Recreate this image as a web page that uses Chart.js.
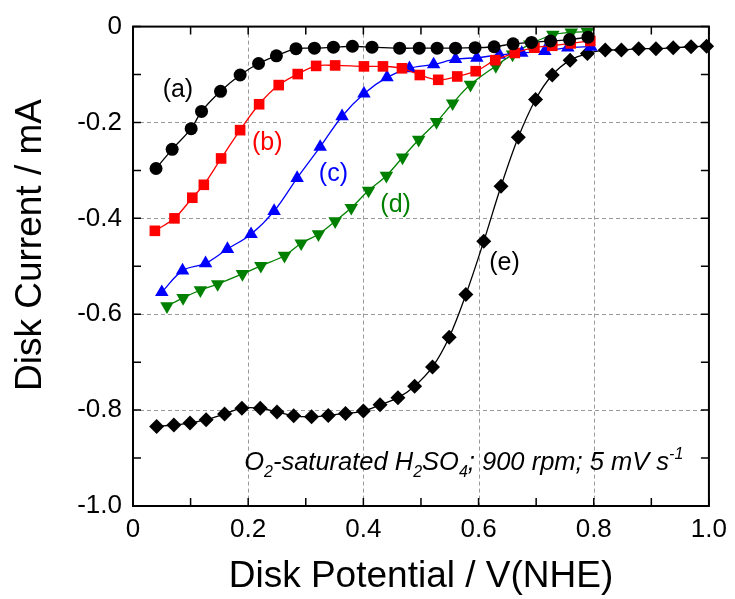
<!DOCTYPE html>
<html><head><meta charset="utf-8">
<script src="https://cdn.jsdelivr.net/npm/chart.js@4/dist/chart.umd.min.js"></script>
<style>html,body{margin:0;padding:0;background:#fff}#wrap{width:735px;height:599px}</style>
</head><body><div id="wrap"><canvas id="c" width="735" height="599"></canvas></div>
<script>
const xA = [0.040,0.068,0.101,0.119,0.152,0.186,0.218,0.249,0.283,0.315,0.348,0.381,0.415,0.463,0.497,0.528,0.560,0.594,0.627,0.660,0.692,0.725,0.758,0.790];
const yA = [-0.296,-0.256,-0.213,-0.177,-0.135,-0.101,-0.077,-0.061,-0.046,-0.045,-0.043,-0.041,-0.043,-0.045,-0.045,-0.045,-0.045,-0.044,-0.042,-0.036,-0.033,-0.030,-0.027,-0.022];
const xB = [0.038,0.072,0.103,0.123,0.153,0.186,0.219,0.253,0.286,0.318,0.351,0.401,0.434,0.467,0.498,0.530,0.563,0.595,0.629,0.663,0.697,0.728,0.760,0.794];
const yB = [-0.426,-0.400,-0.357,-0.330,-0.275,-0.216,-0.162,-0.122,-0.099,-0.082,-0.081,-0.083,-0.083,-0.087,-0.101,-0.111,-0.104,-0.093,-0.070,-0.055,-0.044,-0.040,-0.035,-0.030];
const xC = [0.050,0.086,0.126,0.164,0.205,0.245,0.285,0.325,0.363,0.401,0.441,0.480,0.522,0.560,0.597,0.636,0.675,0.715,0.755,0.795];
const yC = [-0.554,-0.509,-0.494,-0.464,-0.433,-0.385,-0.316,-0.251,-0.187,-0.140,-0.106,-0.087,-0.079,-0.068,-0.065,-0.059,-0.055,-0.051,-0.044,-0.042];
const xD = [0.059,0.087,0.117,0.147,0.190,0.222,0.263,0.292,0.322,0.351,0.379,0.409,0.440,0.468,0.496,0.527,0.555,0.586,0.630,0.659,0.689,0.729,0.761,0.789];
const yD = [-0.583,-0.566,-0.550,-0.537,-0.516,-0.499,-0.478,-0.452,-0.433,-0.406,-0.378,-0.342,-0.311,-0.273,-0.236,-0.199,-0.160,-0.121,-0.082,-0.058,-0.037,-0.017,-0.012,-0.011];
const xE = [0.041,0.071,0.099,0.127,0.159,0.189,0.221,0.250,0.279,0.310,0.339,0.369,0.400,0.429,0.460,0.489,0.520,0.549,0.578,0.609,0.639,0.669,0.699,0.728,0.759,0.789,0.820,0.848,0.878,0.908,0.938,0.969,0.996];
const yE = [-0.834,-0.831,-0.827,-0.820,-0.808,-0.796,-0.796,-0.804,-0.812,-0.814,-0.811,-0.807,-0.802,-0.789,-0.774,-0.750,-0.710,-0.648,-0.559,-0.448,-0.333,-0.231,-0.152,-0.101,-0.070,-0.056,-0.049,-0.049,-0.046,-0.046,-0.044,-0.042,-0.041];
const seriesLabels = ['(a)','(b)','(c)','(d)','(e)'];
const xTicks = [0,0.2,0.4,0.6,0.8,1.0];
const yTicks = [0,-0.2,-0.4,-0.6,-0.8,-1.0];
const xTitle = 'Disk Potential / V(NHE)';
const yTitle = 'Disk Current / mA';

const FONT = "'Liberation Sans', Arial, sans-serif";
const pts = (xs, ys) => xs.map((x, i) => ({x, y: ys[i]}));
function ds(label, xs, ys, color, style, r, rot) {
  return {label, data: pts(xs, ys), showLine: true, borderColor: color, backgroundColor: color,
    borderWidth: 1.3, pointStyle: style, pointRadius: r, pointHoverRadius: r, pointRotation: rot || 0,
    pointBorderWidth: 0, tension: 0.35, clip: false};
}
const labelPos = [
  {t: seriesLabels[0], x: 0.078, y: -0.132, c: '#000'},
  {t: seriesLabels[1], x: 0.233, y: -0.242, c: '#ff0000'},
  {t: seriesLabels[2], x: 0.348, y: -0.308, c: '#0000ff'},
  {t: seriesLabels[3], x: 0.456, y: -0.372, c: '#008000'},
  {t: seriesLabels[4], x: 0.645, y: -0.494, c: '#000'}
];
const framePlugin = {
  id: 'frame',
  beforeDatasetsDraw(chart) {
    const {ctx, chartArea: a, scales: {x, y}} = chart;
    ctx.save();
    ctx.strokeStyle = '#9a9a9a'; ctx.lineWidth = 1; ctx.setLineDash([4, 3]);
    xTicks.forEach(v => { if (v > 0 && v < 1) { const p = Math.round(x.getPixelForValue(v)) + 0.5; ctx.beginPath(); ctx.moveTo(p, a.top); ctx.lineTo(p, a.bottom); ctx.stroke(); } });
    yTicks.forEach(v => { if (v < 0 && v > -1) { const p = Math.round(y.getPixelForValue(v)) + 0.5; ctx.beginPath(); ctx.moveTo(a.left, p); ctx.lineTo(a.right, p); ctx.stroke(); } });
    ctx.restore();
  },
  afterDatasetsDraw(chart) {
    const {ctx, chartArea: a, scales: {x, y}} = chart;
    ctx.save();
    ctx.strokeStyle = '#000'; ctx.lineWidth = 2; ctx.setLineDash([]);
    ctx.strokeRect(a.left, a.top, a.right - a.left, a.bottom - a.top);
    ctx.lineWidth = 1.5;
    const L = 8;
    for (let i = 0; i <= 10; i++) {
      const v = i / 10; const p = x.getPixelForValue(v);
      ctx.beginPath(); ctx.moveTo(p, a.bottom); ctx.lineTo(p, a.bottom - L); ctx.moveTo(p, a.top); ctx.lineTo(p, a.top + L); ctx.stroke();
      const q = y.getPixelForValue(-v);
      ctx.beginPath(); ctx.moveTo(a.left, q); ctx.lineTo(a.left + L, q); ctx.moveTo(a.right, q); ctx.lineTo(a.right - L, q); ctx.stroke();
    }
    // series labels
    ctx.font = `25px ${FONT}`; ctx.textAlign = 'center'; ctx.textBaseline = 'middle';
    labelPos.forEach(l => { ctx.fillStyle = l.c; ctx.fillText(l.t, x.getPixelForValue(l.x), y.getPixelForValue(l.y)); });
    // condition text
    let cx = x.getPixelForValue(0.193); const by = y.getPixelForValue(-0.925);
    ctx.textAlign = 'left'; ctx.textBaseline = 'alphabetic'; ctx.fillStyle = '#000';
    const segs = [['O',0],['2',1],['-saturated H',0],['2',1],['SO',0],['4',1],['; 900 rpm; 5 mV s',0],['-1',2]];
    segs.forEach(([t, k]) => {
      const fs = k ? 16 : 25.5;
      ctx.font = `italic ${fs}px ${FONT}`;
      const dy = k === 1 ? 7 : (k === 2 ? -11 : 0);
      ctx.fillText(t, cx, by + dy);
      cx += ctx.measureText(t).width;
    });
    // y-axis title
    ctx.translate(31, 245); ctx.rotate(-Math.PI / 2);
    ctx.font = `37px ${FONT}`; ctx.textAlign = 'center'; ctx.textBaseline = 'middle'; ctx.fillStyle = '#000';
    ctx.fillText(yTitle, 0, 0);
    ctx.restore();
  }
};
new Chart(document.getElementById('c'), {
  type: 'scatter',
  data: {datasets: [
    ds(seriesLabels[0], xA, yA, '#000000', 'circle', 6.5),
    ds(seriesLabels[1], xB, yB, '#ff0000', 'rect', 7.5),
    ds(seriesLabels[2], xC, yC, '#0000ff', 'triangle', 7.8),
    ds(seriesLabels[3], xD, yD, '#008000', 'triangle', 7.8, 180),
    ds(seriesLabels[4], xE, yE, '#000000', 'rectRot', 7.5)
  ]},
  options: {
    responsive: false, animation: false, devicePixelRatio: 1,
    layout: {padding: {left: 0, top: 22, right: 21, bottom: 0}},
    plugins: {legend: {display: false}, tooltip: {enabled: false}},
    scales: {
      x: {type: 'linear', min: 0, max: 1,
        afterFit: s => { s.height = 93; },
        afterBuildTicks: s => { s.ticks = xTicks.map(v => ({value: v})); },
        grid: {display: false, drawTicks: false}, border: {display: false},
        ticks: {padding: 8, color: '#000', font: {family: FONT, size: 26}, maxRotation: 0,
          callback: v => v === 0 ? '0' : v.toFixed(1)},
        title: {display: true, text: xTitle, color: '#000', font: {family: FONT, size: 37}, padding: {top: 0, bottom: 0}}},
      y: {type: 'linear', min: -1, max: 0,
        afterFit: s => { s.width = 133; },
        afterBuildTicks: s => { s.ticks = yTicks.map(v => ({value: v})); },
        grid: {display: false, drawTicks: false}, border: {display: false},
        ticks: {padding: 11, color: '#000', font: {family: FONT, size: 26},
          callback: v => v === 0 ? '0' : v.toFixed(1)},
        title: {display: false}}
    }
  },
  plugins: [framePlugin]
});
</script></body></html>
